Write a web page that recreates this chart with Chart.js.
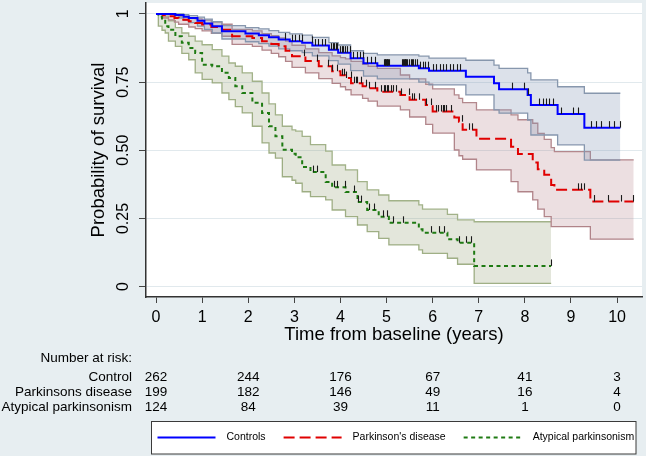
<!DOCTYPE html>
<html><head><meta charset="utf-8">
<script src="https://cdn.jsdelivr.net/npm/chart.js@4/dist/chart.umd.min.js"></script>
<style>html,body{margin:0;padding:0;background:#e7eef1;}canvas{display:block;}</style>
</head><body>
<canvas id="c" width="646" height="456"></canvas>
<script>
// ---- axes / table labels ----
const xTicks = [0,1,2,3,4,5,6,7,8,9,10];
const yTicks = [0,0.25,0.5,0.75,1];
const yTickLabels = ['0','0.25','0.50','0.75','1'];
const riskTimes = [0,2,4,6,8,10];
const riskRowNames = ['Control','Parkinsons disease','Atypical parkinsonism'];
const legendNames = ['Controls',"Parkinson's disease",'Atypical parkinsonism'];
const riskControl = [262,244,176,67,41,3];
const riskPD = [199,182,146,49,16,4];
const riskAP = [124,84,39,11,1,0];

// ---- Controls ----
const ctlTime = [0,0.42,0.60,0.71,0.90,1.05,1.22,1.43,1.94,2.23,2.45,2.66,2.90,3.17,3.39,3.75,3.95,4.22,4.50,4.80,5.70,5.92,6.72,7.33,7.44,8.06,8.13,8.71,9.29];
const ctlSurv = [1,0.996,0.990,0.985,0.975,0.965,0.955,0.936,0.928,0.922,0.914,0.906,0.900,0.894,0.884,0.869,0.858,0.837,0.819,0.810,0.801,0.792,0.770,0.746,0.724,0.703,0.666,0.633,0.583];
const ctlLow  = [1,0.985,0.976,0.968,0.955,0.943,0.930,0.908,0.898,0.891,0.882,0.872,0.865,0.858,0.846,0.829,0.816,0.792,0.772,0.762,0.750,0.740,0.703,0.648,0.636,0.611,0.556,0.520,0.464];
const ctlHigh = [1,1.000,0.997,0.994,0.988,0.981,0.972,0.957,0.950,0.945,0.939,0.932,0.927,0.922,0.914,0.895,0.886,0.865,0.855,0.850,0.845,0.838,0.830,0.812,0.800,0.784,0.758,0.733,0.709];
const ctlEnd = 10.07;
const ctlCensor = [2.80,2.95,3.02,3.10,3.16,3.38,3.45,3.52,3.60,3.66,3.80,3.84,3.86,3.90,3.93,4.00,4.03,4.06,4.09,4.14,4.20,4.28,4.35,4.42,4.48,4.58,4.66,4.74,4.94,4.96,4.97,4.99,5.00,5.02,5.03,5.05,5.34,5.36,5.37,5.39,5.40,5.42,5.44,5.48,5.52,5.55,5.58,5.62,5.66,5.72,5.78,5.84,5.89,6.00,6.08,6.16,6.22,6.30,6.37,6.45,6.52,6.60,7.73,7.99,8.06,8.31,8.39,8.46,8.53,8.60,8.78,9.04,9.15,9.43,9.54,9.65,9.83,9.94,10.06];

// ---- Parkinson's disease ----
const pdTime = [0,0.15,0.27,0.40,0.49,0.71,0.85,1.00,1.20,1.43,1.65,2.09,2.30,2.50,2.66,2.81,2.95,3.24,3.53,3.82,4.00,4.11,4.23,4.48,4.60,4.80,5.30,5.50,5.85,6.00,6.47,6.57,6.65,6.95,7.70,7.85,8.17,8.28,8.42,8.57,8.64,9.42];
const pdSurv = [1,0.995,0.991,0.985,0.979,0.973,0.967,0.961,0.952,0.942,0.918,0.912,0.900,0.890,0.881,0.865,0.845,0.827,0.808,0.790,0.775,0.765,0.746,0.735,0.727,0.715,0.703,0.685,0.666,0.642,0.620,0.605,0.575,0.542,0.513,0.486,0.455,0.430,0.410,0.373,0.355,0.312];
const pdLow  = [1,0.985,0.978,0.970,0.962,0.952,0.946,0.938,0.929,0.918,0.888,0.881,0.867,0.855,0.843,0.826,0.804,0.784,0.763,0.745,0.733,0.722,0.703,0.690,0.680,0.662,0.648,0.622,0.595,0.563,0.501,0.480,0.467,0.428,0.385,0.348,0.318,0.284,0.257,0.220,0.220,0.174];
const pdHigh = [1,1.000,0.998,0.994,0.990,0.986,0.982,0.977,0.970,0.962,0.943,0.938,0.928,0.920,0.912,0.900,0.885,0.872,0.858,0.846,0.840,0.835,0.826,0.815,0.808,0.800,0.776,0.762,0.742,0.725,0.703,0.690,0.675,0.648,0.630,0.612,0.599,0.562,0.540,0.510,0.495,0.465];
const pdEnd = 10.36;
const pdCensor = [3.20,3.50,3.72,3.82,3.93,4.04,4.07,4.11,4.22,4.30,4.33,4.36,4.44,4.55,4.62,4.76,4.87,4.94,4.97,5.00,5.04,5.09,5.14,5.20,5.32,5.49,5.55,5.60,5.71,5.85,5.96,6.07,6.12,6.18,6.22,6.25,6.29,6.39,6.63,6.79,6.86,9.15,9.22,9.29,9.50,9.80,10.09,10.34];

// ---- Atypical parkinsonism ----
const apTime = [0,0.05,0.13,0.20,0.27,0.42,0.56,0.71,0.85,1.00,1.22,1.43,1.58,1.72,1.87,2.09,2.30,2.45,2.59,2.74,2.95,3.03,3.17,3.35,3.68,3.82,4.11,4.37,4.58,4.83,5.05,5.70,5.78,6.32,6.54,6.90];
const apSurv = [1,0.990,0.979,0.955,0.942,0.918,0.894,0.875,0.857,0.814,0.808,0.784,0.765,0.735,0.710,0.674,0.637,0.588,0.551,0.502,0.487,0.474,0.439,0.420,0.384,0.364,0.347,0.310,0.281,0.256,0.234,0.210,0.198,0.174,0.161,0.076];
const apLow  = [1,0.955,0.940,0.930,0.900,0.881,0.855,0.832,0.784,0.760,0.747,0.710,0.686,0.660,0.637,0.588,0.527,0.490,0.471,0.403,0.390,0.379,0.348,0.330,0.318,0.281,0.257,0.226,0.202,0.177,0.153,0.135,0.122,0.104,0.082,0.012];
const apHigh = [1,1.000,0.995,0.992,0.975,0.950,0.930,0.918,0.900,0.887,0.869,0.845,0.820,0.808,0.784,0.753,0.710,0.670,0.630,0.588,0.575,0.570,0.551,0.521,0.497,0.446,0.428,0.385,0.355,0.336,0.315,0.300,0.284,0.265,0.245,0.238];
const apEnd = 8.57;
const apCensor = [3.40,3.50,3.86,3.92,4.10,4.30,4.37,4.45,4.62,4.72,4.92,5.02,5.13,5.36,5.96,6.14,6.25,6.57,6.72,6.83,8.57];

const FONT = '"Liberation Sans", Arial, Helvetica, sans-serif';
Chart.defaults.font.family = FONT;
Chart.defaults.color = '#000';

const groups = [
  {time:ctlTime, surv:ctlSurv, low:ctlLow, high:ctlHigh, end:ctlEnd, censor:ctlCensor,
   color:'#0000ff', dash:[], ci:'#8797ad', fillc:'rgba(130,148,180,0.28)'},
  {time:pdTime, surv:pdSurv, low:pdLow, high:pdHigh, end:pdEnd, censor:pdCensor,
   color:'#e00000', dash:[11,5], ci:'#b3888d', fillc:'rgba(170,110,118,0.22)'},
  {time:apTime, surv:apSurv, low:apLow, high:apHigh, end:apEnd, censor:apCensor,
   color:'#1e7a12', dash:[4,3.5], ci:'#a2b289', fillc:'rgba(140,152,105,0.24)'}
];

function pts(g, arr){
  const p = g.time.map((t,i)=>({x:t, y:arr[i]}));
  p.push({x:g.end, y:arr[arr.length-1]});
  return p;
}

const datasets = [];
groups.forEach(g=>{
  datasets.push({data:pts(g,g.surv), borderColor:g.color, borderWidth:2, borderDash:g.dash,
    stepped:'before', pointRadius:0, fill:false, order:0});
});
groups.forEach(g=>{
  datasets.push({data:pts(g,g.high), borderColor:g.ci, borderWidth:1.3, backgroundColor:g.fillc,
    fill:'+1', stepped:'before', pointRadius:0, order:5});
  datasets.push({data:pts(g,g.low), borderColor:g.ci, borderWidth:1.3,
    fill:false, stepped:'before', pointRadius:0, order:5});
});

const bgPlugin = {
  id:'bg',
  beforeDraw(chart){
    const {ctx, chartArea:a} = chart;
    ctx.save();
    ctx.fillStyle = '#e7eef1';
    ctx.fillRect(0,0,chart.width,chart.height);
    ctx.fillStyle = '#ffffff';
    ctx.fillRect(a.left, a.top, a.right-a.left, a.bottom-a.top);
    ctx.restore();
  }
};

const censorPlugin = {
  id:'censor',
  afterDatasetsDraw(chart){
    const xs = chart.scales.x, ys = chart.scales.y, ctx = chart.ctx;
    ctx.save();
    ctx.strokeStyle = '#1a1a1a';
    ctx.lineWidth = 1.1;
    groups.forEach(g=>{
      g.censor.forEach(t=>{
        let s = g.surv[0];
        for (let i=0;i<g.time.length;i++){ if (g.time[i] <= t) s = g.surv[i]; }
        const px = Math.round(xs.getPixelForValue(t)) + 0.5;
        const py = ys.getPixelForValue(s);
        ctx.beginPath(); ctx.moveTo(px, py); ctx.lineTo(px, py-6.5); ctx.stroke();
      });
    });
    ctx.restore();
  }
};

const tablePlugin = {
  id:'table',
  afterDraw(chart){
    const ctx = chart.ctx, xs = chart.scales.x;
    ctx.save();
    ctx.fillStyle = '#000';
    ctx.font = '13.5px ' + FONT;
    ctx.textBaseline = 'middle';
    ctx.textAlign = 'right';
    ctx.fillText('Number at risk:', 132, 358.5);
    [riskControl, riskPD, riskAP].forEach((row,i)=>{
      const y = 376.8 + i*15.3;
      ctx.textAlign = 'right';
      ctx.fillText(riskRowNames[i], 132, y);
      ctx.textAlign = 'center';
      row.forEach((n,j)=> ctx.fillText(String(n), xs.getPixelForValue(riskTimes[j]), y));
    });
    // legend
    const bx = 151.5, by = 421.5, bw = 484.5, bh = 32.5;
    ctx.fillStyle = '#ffffff';
    ctx.fillRect(bx, by, bw, bh);
    ctx.strokeStyle = '#3a3a3a'; ctx.lineWidth = 1;
    ctx.strokeRect(bx, by, bw, bh);
    ctx.font = '10.5px ' + FONT;
    ctx.textAlign = 'left';
    let x = bx + 6; const yc = by + 16;
    legendNames.forEach((name,i)=>{
      const g = groups[i];
      ctx.strokeStyle = g.color; ctx.lineWidth = 2; ctx.setLineDash(g.dash);
      ctx.beginPath(); ctx.moveTo(x, yc); ctx.lineTo(x+58, yc); ctx.stroke();
      ctx.setLineDash([]);
      x += 58 + 11;
      ctx.fillStyle = '#000';
      ctx.fillText(name, x, yc);
      x += ctx.measureText(name).width + 18;
    });
    ctx.restore();
  }
};

new Chart(document.getElementById('c'), {
  type:'line',
  data:{datasets},
  options:{
    responsive:false, animation:false, events:[],
    layout:{padding:{left:0, right:4, top:3, bottom:110}},
    plugins:{legend:{display:false}, tooltip:{enabled:false}},
    scales:{
      x:{
        type:'linear', min:-0.217, max:10.54,
        afterBuildTicks:s=>{ s.ticks = xTicks.map(v=>({value:v})); },
        afterFit:s=>{ s.height = 49; s.paddingLeft = 0; s.paddingRight = 0; },
        grid:{drawOnChartArea:false, drawTicks:true, tickLength:6, tickColor:'#444', lineWidth:1},
        border:{display:true, color:'#333', width:1.5},
        ticks:{color:'#000', font:{size:16}, padding:5, maxRotation:0, autoSkip:false},
        title:{display:true, text:'Time from baseline (years)', color:'#000', font:{size:18.5}, padding:{top:0,bottom:0}}
      },
      y:{
        type:'linear', min:-0.038, max:1.04,
        afterBuildTicks:s=>{ s.ticks = yTicks.map(v=>({value:v})); },
        afterFit:s=>{ s.width = 146; s.paddingTop = 0; s.paddingBottom = 0; },
        grid:{color:'#e1e9ed', lineWidth:1, drawTicks:true, tickLength:7, tickColor:'#444'},
        border:{display:true, color:'#333', width:1.5},
        ticks:{color:'#000', font:{size:16}, padding:0, minRotation:90, maxRotation:90, crossAlign:'center', autoSkip:false,
          callback:(v,i)=>yTickLabels[i]},
        title:{display:true, text:'Probability of survival', color:'#000', font:{size:18.5}, padding:{top:88,bottom:0}}
      }
    }
  },
  plugins:[bgPlugin, censorPlugin, tablePlugin]
});
</script>
</body></html>
